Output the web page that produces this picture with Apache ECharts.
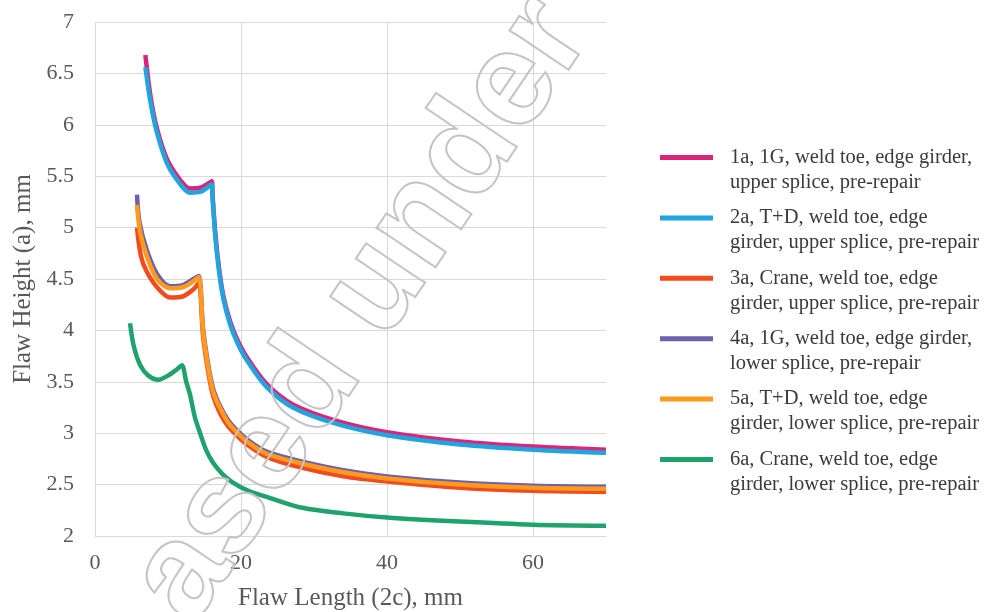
<!DOCTYPE html>
<html style="height: 100%">
<head>
	<meta charset="utf-8">
	<title>Flaw height vs flaw length</title>
</head>
<body style="height: 100%; margin: 0; background: #fff">
<div id="container" style="width: 986px; height: 612px"></div>

<script src="https://cdn.jsdelivr.net/npm/echarts@6/dist/echarts.min.js"></script>
<script type="text/javascript">
	// values: [2c mm, a mm]
	var s1a = [[6.9,6.68],[7.6,6.28],[8.5,5.96],[9.9,5.66],[11.7,5.46],[13.0,5.38],[14.5,5.39],[16.0,5.45],[16.1,5.32],[16.5,4.93],[17.0,4.6],[17.6,4.33],[18.5,4.09],[19.5,3.91],[20.8,3.74],[23.5,3.48],[27.1,3.28],[33.1,3.12],[40,3.01],[50,2.92],[60,2.87],[70,2.84]];
	var s2a = [[6.9,6.56],[7.6,6.22],[8.5,5.92],[9.9,5.62],[11.7,5.42],[13.0,5.34],[14.5,5.35],[16.0,5.42],[16.1,5.29],[16.5,4.9],[17.0,4.57],[17.6,4.3],[18.5,4.06],[19.5,3.88],[20.8,3.71],[23.5,3.45],[27.1,3.25],[33.1,3.09],[40,2.98],[50,2.89],[60,2.84],[70,2.81]];
	var s3a = [[5.75,5.0],[6.3,4.72],[7.1,4.57],[8.5,4.42],[10.3,4.32],[12,4.33],[13.5,4.4],[14.2,4.46],[14.8,3.95],[15.5,3.6],[16.2,3.36],[17.1,3.2],[18.2,3.07],[19.4,2.98],[21,2.88],[23.5,2.77],[28,2.67],[34,2.58],[40,2.53],[50,2.47],[60,2.44],[70,2.43]];
	var s4a = [[5.75,5.32],[6.1,5.05],[7.1,4.78],[8.5,4.55],[10.3,4.43],[12,4.44],[13.5,4.5],[14.2,4.53],[14.8,4.02],[15.5,3.67],[16.2,3.43],[17.1,3.27],[18.2,3.13],[19.4,3.03],[21,2.93],[23.5,2.82],[28,2.73],[34,2.64],[40,2.58],[50,2.52],[60,2.49],[70,2.48]];
	var s5a = [[5.75,5.22],[6.2,4.95],[7.1,4.72],[8.5,4.5],[10.3,4.41],[12,4.42],[13.5,4.48],[14.2,4.52],[14.8,4.0],[15.5,3.64],[16.2,3.4],[17.1,3.25],[18.2,3.11],[19.4,3.01],[21,2.91],[23.5,2.8],[28,2.71],[34,2.62],[40,2.56],[50,2.5],[60,2.47],[70,2.46]];
	var s6a = [[4.8,4.07],[5.3,3.85],[6.2,3.66],[7.3,3.56],[8.7,3.52],[10,3.56],[11.2,3.62],[11.9,3.66],[12.5,3.5],[13.0,3.38],[13.7,3.15],[14.4,3.0],[15.2,2.84],[16.2,2.71],[17.5,2.6],[18.9,2.52],[21,2.44],[23.5,2.38],[28,2.28],[34,2.22],[40,2.18],[50,2.14],[60,2.11],[70,2.1]];

	var seriesNames = [
		'1a, 1G, weld toe, edge girder,\nupper splice, pre-repair',
		'2a, T+D, weld toe, edge\ngirder, upper splice, pre-repair',
		'3a, Crane, weld toe, edge\ngirder, upper splice, pre-repair',
		'4a, 1G, weld toe, edge girder,\nlower splice, pre-repair',
		'5a, T+D, weld toe, edge\ngirder, lower splice, pre-repair',
		'6a, Crane, weld toe, edge\ngirder, lower splice, pre-repair'
	];
	var seriesData = [s1a, s2a, s3a, s4a, s5a, s6a];
	var colors = ['#dc2478', '#22a5de', '#f24b1e', '#6a62ad', '#ff9a1f', '#1fa36c'];
	var xTicks = [0, 20, 40, 60];

	var serif = '"Liberation Serif", "Times New Roman", serif';
	var myChart = echarts.init(document.getElementById('container'), null, { renderer: 'canvas' });

	var series = [];
	for (var i = 0; i < seriesData.length; i++) {
		series.push({
			name: seriesNames[i],
			type: 'line',
			data: seriesData[i],
			showSymbol: false,
			symbol: 'none',
			smooth: 0.3,
			lineStyle: { width: 4.5, color: colors[i] },
			itemStyle: { color: colors[i] }
		});
	}

	var option = {
		animation: false,
		color: colors,
		grid: { left: 95, right: 380, top: 22, bottom: 76, containLabel: false, outerBoundsMode: 'none' },
		legend: {
			orient: 'vertical',
			left: 655,
			top: 115,
			icon: 'rect',
			itemWidth: 53,
			itemHeight: 5,
			itemGap: -14.6,
			// blank first line so the icon sits beside the first text line
			formatter: function (name) { return '\n' + name; },
			textStyle: {
				fontFamily: serif,
				fontSize: 20.5,
				lineHeight: 25,
				color: '#3a3a3a',
				padding: [0, 0, 0, 12]
			}
		},
		xAxis: {
			type: 'value',
			min: 0,
			max: 70,
			interval: 20,
			name: 'Flaw Length (2c), mm',
			nameLocation: 'middle',
			nameGap: 50,
			nameTextStyle: { fontFamily: serif, fontSize: 25, color: '#595959' },
			axisLine: { show: false },
			axisTick: { show: false, customValues: xTicks },
			axisLabel: { customValues: xTicks, fontFamily: serif, fontSize: 22, color: '#595959', margin: 16 },
			splitLine: { show: true, lineStyle: { color: '#d9d9d9', width: 1 } }
		},
		yAxis: {
			type: 'value',
			min: 2,
			max: 7,
			interval: 0.5,
			name: 'Flaw Height (a), mm',
			nameLocation: 'middle',
			nameGap: 53,
			nameTextStyle: { fontFamily: serif, fontSize: 25, color: '#595959' },
			axisLine: { show: false },
			axisTick: { show: false },
			axisLabel: { fontFamily: serif, fontSize: 22, color: '#595959', margin: 21 },
			splitLine: { show: true, lineStyle: { color: '#d9d9d9', width: 1 } }
		},
		graphic: [{
			type: 'text',
			x: 362,
			y: 310,
			rotation: 56 * Math.PI / 180,
			z: 100,
			silent: true,
			style: {
				text: 'ased under',
				font: 'bold 134px "Liberation Sans", Arial, sans-serif',
				align: 'center',
				verticalAlign: 'middle',
				fill: 'rgba(0,0,0,0)',
				stroke: '#c4c4c4',
				lineWidth: 2
			}
		}],
		series: series
	};

	myChart.setOption(option);
	window.addEventListener('resize', myChart.resize);
</script>
</body>
</html>
